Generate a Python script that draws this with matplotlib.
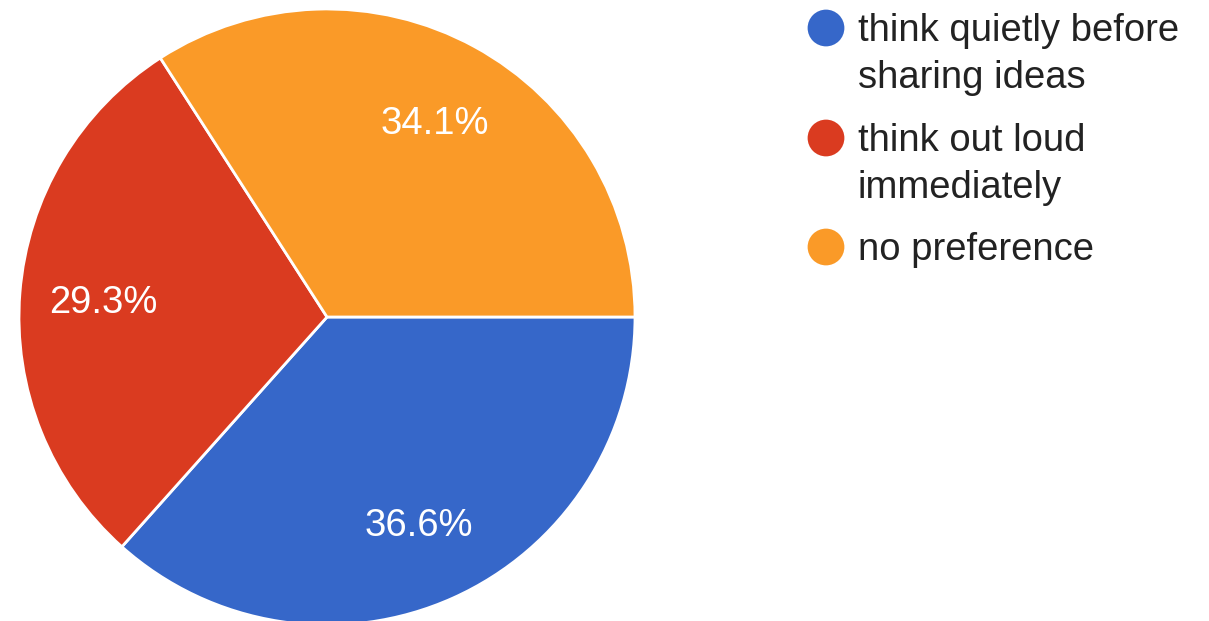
import matplotlib
matplotlib.use("Agg")
import matplotlib.pyplot as plt

LABELS = ["think quietly before\nsharing ideas", "think out loud\nimmediately", "no preference"]
SHARES = [36.6, 29.3, 34.1]
COLORS = ["#3667c9", "#da3b20", "#fa9a28"]

plt.rcParams["font.family"] = ["Liberation Sans", "DejaVu Sans"]

W, H = 1209, 621
fig = plt.figure(figsize=(W / 100, H / 100), dpi=100)

# pie axes: centre (327, 317) px, radius 308 px
cx, cy, r = 327, 317, 308
ax = fig.add_axes([(cx - r) / W, (H - cy - r) / H, 2 * r / W, 2 * r / H])
wedges, _, autotexts = ax.pie(SHARES, colors=COLORS, startangle=0, counterclock=False,
                              autopct="%.1f%%", pctdistance=0.73, radius=1,
                              wedgeprops=dict(edgecolor="white", linewidth=2))
for t in autotexts:
    t.set_color("white")
    t.set_fontsize(27.5)
    t.set_va("center_baseline")
ax.set_xlim(-1, 1)
ax.set_ylim(-1, 1)
ax.set_aspect("equal")
ax.axis("off")

# legend drawn in pixel coordinates
lg = fig.add_axes([0, 0, 1, 1])
lg.set_xlim(0, W)
lg.set_ylim(H, 0)
lg.axis("off")
ys = [28, 138, 247]
for y, lab, c in zip(ys, LABELS, COLORS):
    lg.scatter([826], [y], s=700, color=c, edgecolor="none")
    lg.text(858, y - 15, lab, fontsize=27.5, color="#222222", va="top", ha="left",
            linespacing=1.38)

fig.savefig("out.png", dpi=100)
